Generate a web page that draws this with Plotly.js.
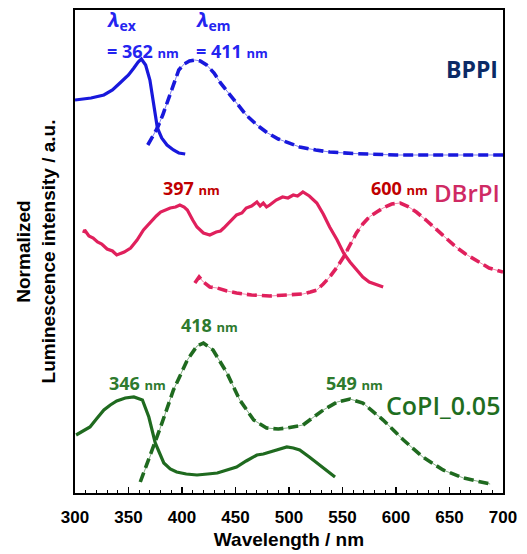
<!DOCTYPE html>
<html>
<head>
<meta charset="utf-8">
<script src="https://cdn.plot.ly/plotly-3.0.1.min.js"></script>
<style>html,body{margin:0;padding:0;background:#fff}#chart{width:527px;height:554px}</style>
</head>
<body>
<div id="chart"></div>
<script>
// Wavelengths (nm) and normalized, vertically offset intensities (a.u.)
const bppiExX = [300,315,327,335,342,350,355,359,362,366,370,374,377,381,386,392,397,403];
const bppiExY = [393,395,398,403,410,418,425,431,434,428,413,388,365,355,348,343,340,339];
const bppiEmX = [368,372,377,382,387,392,397,402,407,412,417,423,430,436,445,451,460,470,480,490,500,510,525,538,560,580,600,650,700];
const bppiEmY = [348,356,365,378,393,408,423,429,432,433,432,428,420,410,398,390,378,368,360,354,350,346,343,341,339.5,338.5,338,338,338];

const dbrExX = [308,309,313,317,321,325,330,335,339,343,346,352,358,364,368,372,376,380,385,389,394,398,402,405,410,414,420,426,432,436,439,445,451,456,460,465,470,473,476,479,482,488,494,499,504,508,513,519,526,532,538,545,551,557,563,569,575,582,588];
const dbrExY = [260,263,257,255,251,249,244,242,238,240,241,245,253,263,268,273,277,281,283,285,286,288,286,283,273,266,260,258,261,262,265,271,278,280,285,287,291,287,290,286,288,293,296,295,298,297,301,297,290,279,266,253,240,231,223,216,211,208,206];
const dbrEmX = [412,416,420,426,433,442,451,465,482,498,513,520,526,532,538,545,551,557,563,569,575,582,588,596,604,612,619,628,638,647,656,665,675,687,700];
const dbrEmY = [210,216,211,206,205,202,200,198,197,198,199,201,203,209,216,226,236,248,260,269,276,281,285,289,290,286,281,273,263,254,246,239,233,225,221];

const copiExX = [301,308,314,320,327,333,339,347,355,363,369,375,383,389,395,404,414,424,433,442,451,460,470,476,482,490,498,504,510,519,526,532,538,543];
const copiExY = [58,62,66,74,83,88,92,95,96,93,76,50,30,24,21,19,18,19,20,23,26,32,38,39,41,44,46,45,43,36,30,25,20,16];
const copiEmX = [361,370,380,392,405,414,420,429,442,454,467,479,490,498,513,532,545,557,569,588,607,625,644,663,688];
const copiEmY = [11,36,66,103,133,147,150,143,120,93,73,65,64,65,68,83,91,94,90,73,53,36,23,15,9];

const xTicks = [300,350,400,450,500,550,600,650,700];

const blue = '#1818dc', crimson = '#e0205c', green = '#1f6a1f';

function solid(x, y, c){ return {x:x, y:y, type:'scatter', mode:'lines', line:{color:c, width:3.2}, hoverinfo:'skip'}; }
function thin(x, y, c){ return {x:x, y:y, type:'scatter', mode:'lines', line:{color:c, width:1}, opacity:0.55, hoverinfo:'skip'}; }
function dashed(x, y, c){ return {x:x, y:y, type:'scatter', mode:'lines', line:{color:c, width:3.6, dash:'10px,5px'}, hoverinfo:'skip'}; }

const data = [
  thin(bppiEmX, bppiEmY, blue), dashed(bppiEmX, bppiEmY, blue), solid(bppiExX, bppiExY, blue),
  thin(dbrEmX, dbrEmY, crimson), dashed(dbrEmX, dbrEmY, crimson), solid(dbrExX, dbrExY, crimson),
  thin(copiEmX, copiEmY, green), dashed(copiEmX, copiEmY, green), solid(copiExX, copiExY, green)
];

const OS = 'Open Sans, Noto Sans, sans-serif';
function ann(text, x, y, xanchor, color, size, weight){
  return {text:text, x:x, y:y, xref:'x', yref:'y', xanchor:xanchor, yanchor:'middle', showarrow:false,
    font:{family:OS, size:size, color:color, weight:weight||'normal'}};
}
const nm = s => "<span style='font-size:13px'>" + s + "</span>";
const annotations = [
  ann("<b><i>λ</i><sub>ex</sub></b>", 328, 473, 'left', '#2424f0', 20),
  ann("<b>= 362 " + nm('nm') + "</b>", 328, 442, 'left', '#2424f0', 18),
  ann("<b><i>λ</i><sub>em</sub></b>", 411, 473, 'left', '#2424f0', 20),
  ann("<b>= 411 " + nm('nm') + "</b>", 411, 442, 'left', '#2424f0', 18),
  ann("<b>BPPI</b>", 697, 424, 'right', '#0b2a66', 23),
  ann("<b>397 " + nm('nm') + "</b>", 409, 305, 'center', '#c00000', 18),
  ann("<b>600 " + nm('nm') + "</b>", 603, 305, 'center', '#c00000', 18),
  ann("DBrPI", 699, 301, 'right', '#cf2a64', 24, 600),
  ann("<b>346 " + nm('nm') + "</b>", 358, 110, 'center', '#2e7a2e', 18),
  ann("<b>418 " + nm('nm') + "</b>", 426, 168, 'center', '#2e7a2e', 18),
  ann("<b>549 " + nm('nm') + "</b>", 561, 110, 'center', '#2e7a2e', 18),
  ann("CoPI_0.05", 699, 88, 'right', '#1f6e1f', 25, 600)
];

const layout = {
  width:527, height:554,
  margin:{l:75, r:24, t:10, b:61, pad:0},
  paper_bgcolor:'#fff', plot_bgcolor:'#fff',
  showlegend:false,
  xaxis:{
    range:[300,700], tickvals:xTicks, ticktext:xTicks.map(String),
    ticks:'inside', ticklen:6, tickwidth:1.5, tickcolor:'#000',
    minor:{dtick:10, tick0:300, ticks:'inside', ticklen:3, tickwidth:1, tickcolor:'#000', showgrid:false},
    showline:true, linecolor:'#000', linewidth:1.6, mirror:true,
    showgrid:false, zeroline:false, ticklabelstandoff:8,
    tickfont:{family:'Liberation Sans, Arial, sans-serif', size:17, color:'#000', weight:'bold'},
    title:{text:'<b>Wavelength / nm</b>', font:{family:'Liberation Sans, Arial, sans-serif', size:19, color:'#000'}, standoff:6}
  },
  yaxis:{
    range:[0,483], showticklabels:false, ticks:'',
    showline:true, linecolor:'#000', linewidth:1.6, mirror:true,
    showgrid:false, zeroline:false,
    title:{text:'<b>Normalized<br>Luminescence intensity / a.u.</b>', font:{family:'Liberation Sans, Arial, sans-serif', size:19, color:'#000'}, standoff:13}
  },
  annotations:annotations
};

Plotly.newPlot('chart', data, layout, {displayModeBar:false, staticPlot:true});
</script>
</body>
</html>
